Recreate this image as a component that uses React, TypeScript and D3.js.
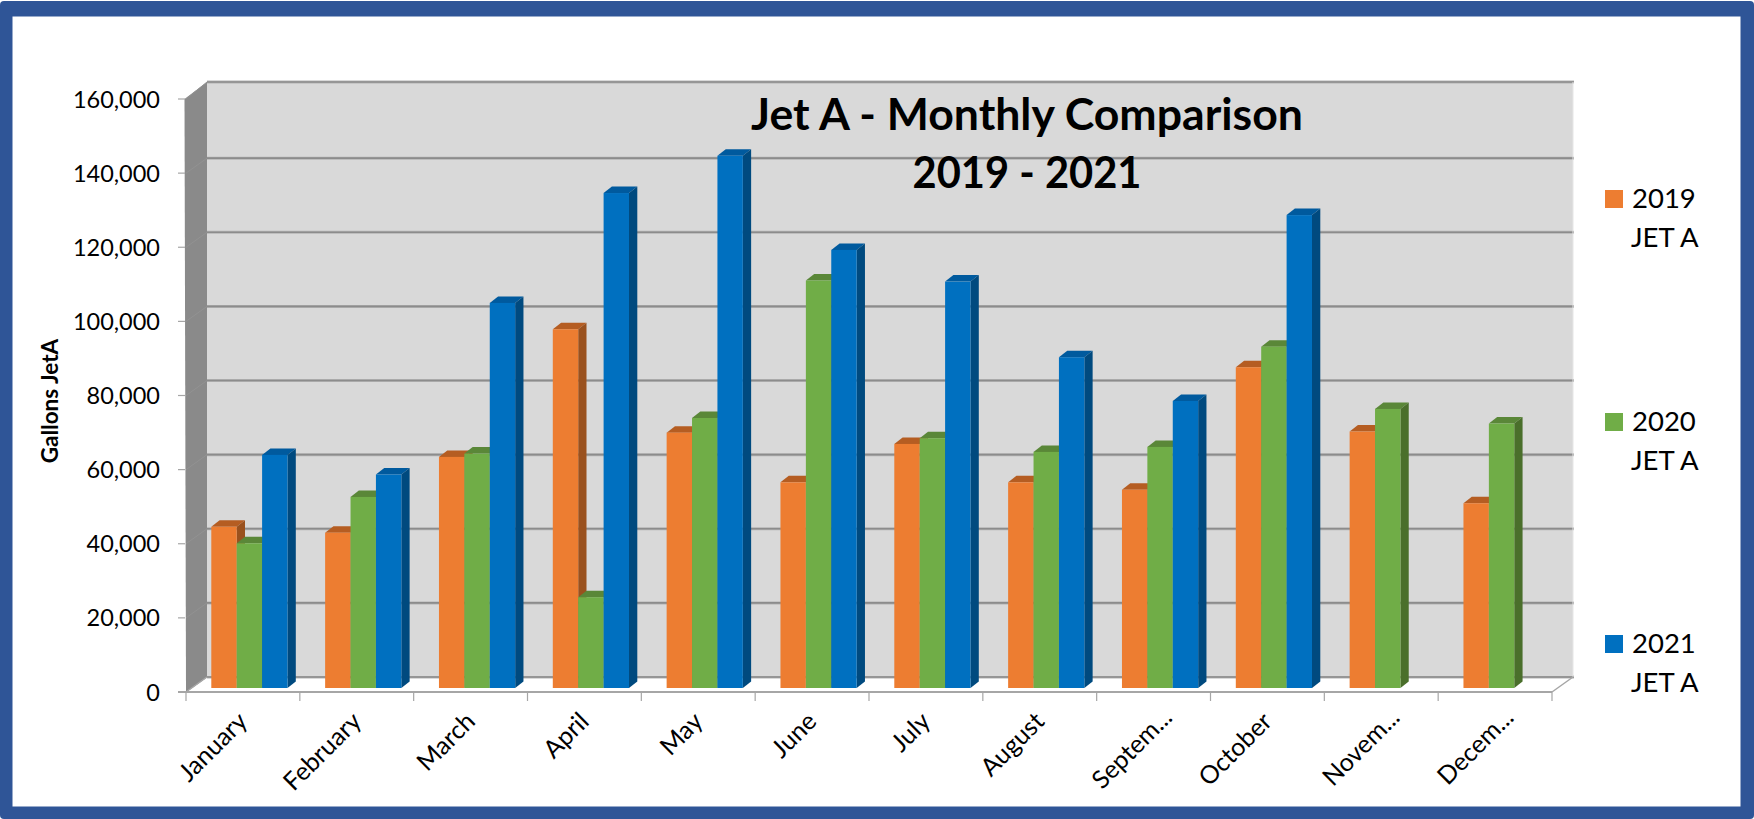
import React from "react";
import * as d3 from "d3";

const months = ["January","February","March","April","May","June","July","August","Septem...","October","Novem...","Decem..."];
const jet2019 = [43500,41900,62350,96800,68900,55500,65850,55500,53500,86550,69200,49850];
const jet2020 = [39050,51550,63250,24500,72850,109950,67400,63700,65050,92100,75300,71350];
const jet2021 = [62900,57600,103900,133550,143600,118200,109650,89250,77450,127600,null,null];
const yTicks = [0,20000,40000,60000,80000,100000,120000,140000,160000];
const seriesNames = ["2019","2020","2021"];
const seriesLabel = "JET A";
const titleLines = ["Jet A - Monthly Comparison","2019 - 2021"];
const yTitle = "Gallons JetA";

const palette = [
  { front: "#ed7d31", top: "#b55d22", side: "#9a511e" },
  { front: "#70ad47", top: "#5a8738", side: "#4a6f2b" },
  { front: "#0070c0", top: "#005a9e", side: "#004a7f" },
];
const FONT = "Lato, sans-serif";
const FRONT_L = 186, FRONT_R = 1552, Y_ZERO = 692, Y_TOP = 99;
const WALL_DX = 21, WALL_DY = 15;
const BAR_BASE = 688, BAR_W = 25.4, BAR_OFF = 25.3, D_X = 8.3, D_Y = 6.5;

const x = d3.scaleBand<string>().domain(months).range([FRONT_L, FRONT_R]);
const yFront = d3.scaleLinear().domain([0,160000]).range([Y_ZERO, Y_TOP]);
const yBar = d3.scaleLinear().domain([0,160000]).range([BAR_BASE, BAR_BASE - (Y_ZERO - Y_TOP)]);
const poly = d3.line<[number,number]>();
const fmt = d3.format(",");

export default function App() {
  const series = [jet2019, jet2020, jet2021];
  const backL = FRONT_L + WALL_DX, backR = FRONT_R + WALL_DX;
  const legendY = [190, 413, 635];
  return (
    <svg width={1754} height={819} style={{ position: "absolute", left: 0, top: 0, display: "block" }} fontFamily={FONT}>
      <rect x={0} y={1} width={1754} height={818} rx={4} fill="#2f5597" />
      <rect x={12.5} y={16.5} width={1728} height={790} fill="#ffffff" />

      {/* back wall */}
      <rect x={backL} y={Y_TOP - WALL_DY - 2} width={FRONT_R - FRONT_L} height={Y_ZERO - Y_TOP} fill="#d9d9d9" />
      {/* side wall */}
      <path d={poly([[184.5,Y_TOP],[backL,Y_TOP-WALL_DY-2],[backL,Y_ZERO-WALL_DY],[FRONT_L,Y_ZERO]])! + "Z"} fill="#8a8a8a" />
      {/* floor */}
      <path d={poly([[FRONT_L,Y_ZERO],[backL,Y_ZERO-WALL_DY],[backR,Y_ZERO-WALL_DY],[FRONT_R,Y_ZERO]])! + "Z"} fill="#ffffff" />

      {/* gridlines */}
      {yTicks.map((t) => {
        const yy = yFront(t) - WALL_DY - (t === 160000 ? 2 : 0);
        return (
          <g key={t}>
            <line x1={FRONT_L} y1={yFront(t)} x2={backL} y2={yy} stroke="#929292" strokeWidth={1} />
            <line x1={backL} y1={yy} x2={backR + 1} y2={yy} stroke="#b4b4b4" strokeWidth={3} />
            <line x1={backL} y1={yy} x2={backR + 1} y2={yy} stroke="#8c8c8c" strokeWidth={1.6} />
          </g>
        );
      })}
      <line x1={backR} y1={Y_TOP - WALL_DY - 2} x2={backR} y2={Y_ZERO - WALL_DY} stroke="#e6e6e6" strokeWidth={1} />

      {/* floor front edge and diagonal */}
      <line x1={FRONT_L} y1={Y_ZERO} x2={backL} y2={Y_ZERO - WALL_DY} stroke="#a6a6a6" strokeWidth={1.5} />
      <line x1={FRONT_R} y1={Y_ZERO} x2={backR} y2={Y_ZERO - WALL_DY} stroke="#a6a6a6" strokeWidth={1.5} />

      {/* bars */}
      {months.map((m, i) =>
        series.map((s, k) => {
          const v = s[i];
          if (v == null) return null;
          const x0 = x(m)! + BAR_OFF + k * BAR_W;
          const x1 = x0 + BAR_W;
          const yt = yBar(v);
          const p = palette[k];
          return (
            <g key={m + k}>
              <path d={poly([[x0,yt],[x0+D_X,yt-D_Y],[x1+D_X,yt-D_Y],[x1,yt]])! + "Z"} fill={p.top} />
              <path d={poly([[x1,yt],[x1+D_X,yt-D_Y],[x1+D_X,BAR_BASE-D_Y],[x1,BAR_BASE]])! + "Z"} fill={p.side} />
              <rect x={x0} y={yt} width={BAR_W} height={BAR_BASE - yt} fill={p.front} />
            </g>
          );
        })
      )}

      {/* axes */}
      <line x1={FRONT_L - 8} y1={Y_ZERO} x2={FRONT_R} y2={Y_ZERO} stroke="#a6a6a6" strokeWidth={2} />
      {yTicks.map((t) => (
        <g key={t}>
          <line x1={178} y1={yFront(t)} x2={185} y2={yFront(t)} stroke="#a6a6a6" strokeWidth={1.2} />
          <text x={160} y={yFront(t) + 8.5} textAnchor="end" fontSize={23.5} fill="#000">{fmt(t)}</text>
        </g>
      ))}
      {months.map((m) => (
        <line key={m} x1={x(m)!} y1={Y_ZERO} x2={x(m)!} y2={701} stroke="#a6a6a6" strokeWidth={1.2} />
      ))}
      <line x1={FRONT_R} y1={Y_ZERO} x2={FRONT_R} y2={701} stroke="#a6a6a6" strokeWidth={1.2} />
      {months.map((m) => {
        const truncated = m.endsWith("...");
        const lx = x(m)! + x.bandwidth() / 2 + (truncated ? 20 : 6);
        const ly = truncated ? 719 : 723;
        return (
          <text key={m} transform={`translate(${lx},${ly}) rotate(-45)`} textAnchor="end" fontSize={25} fill="#000">{m}</text>
        );
      })}

      {/* y title */}
      <text transform="translate(58,401) rotate(-90)" textAnchor="middle" fontSize={22.5} fontWeight={700} fill="#000">{yTitle}</text>

      {/* chart title */}
      {titleLines.map((t, i) => (
        <text
          key={t}
          x={1027}
          y={130 + i * 58}
          textAnchor="middle"
          fontSize={44.5}
          fontWeight={700}
          fill="#000"
          textLength={i === 1 ? 229 : 552}
          lengthAdjust="spacingAndGlyphs"
        >{t}</text>
      ))}

      {/* legend */}
      {seriesNames.map((n, k) => (
        <g key={n}>
          <rect x={1605} y={legendY[k]} width={18} height={18} fill={palette[k].front} />
          <text x={1632} y={legendY[k] + 18} fontSize={27.5} fill="#000">{n}</text>
          <text x={1631} y={legendY[k] + 57} fontSize={27.5} fill="#000">{seriesLabel}</text>
        </g>
      ))}
    </svg>
  );
}
